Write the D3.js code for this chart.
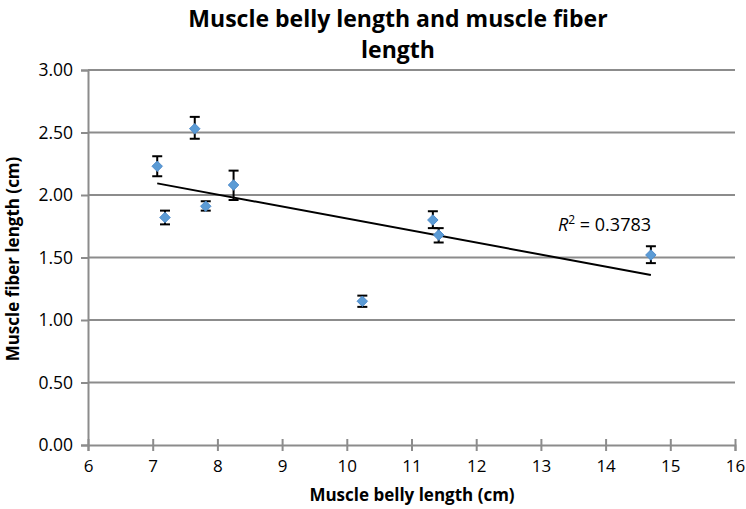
<!DOCTYPE html>
<html><head><meta charset="utf-8">
<script src="https://cdn.jsdelivr.net/npm/d3@7"></script>
<style>
body{margin:0;background:#fff;}
text{font-family:"Open Sans","Noto Sans",sans-serif;}
</style></head>
<body><svg id="c" width="746" height="509"></svg>
<script>
const bellyLength = [7.07, 7.19, 7.65, 7.82, 8.25, 10.24, 11.33, 11.42, 14.70];
const fiberLength = [2.23, 1.82, 2.53, 1.91, 2.08, 1.15, 1.80, 1.68, 1.52];
const errHigh     = [2.31, 1.875, 2.625, 1.95, 2.195, 1.195, 1.87, 1.735, 1.59];
const errLow      = [2.15, 1.765, 2.45, 1.875, 1.96, 1.105, 1.735, 1.62, 1.455];
const xTicks = [6,7,8,9,10,11,12,13,14,15,16];
const yTicks = [0,0.5,1,1.5,2,2.5,3];
const rSquared = "0.3783";

const svg = d3.select("#c");
const pLeft = 88, pRight = 735, pTop = 70, pBottom = 445;
const x = d3.scaleLinear().domain([6,16]).range([pLeft,pRight]);
const y = d3.scaleLinear().domain([0,3]).range([pBottom,pTop]);
const grey = "#8c8c8c";

// gridlines
svg.append("g").selectAll("line").data(yTicks.filter(d=>d>0)).join("line")
  .attr("x1",pLeft).attr("x2",pRight).attr("y1",d=>y(d)).attr("y2",d=>y(d))
  .attr("stroke",grey).attr("stroke-width",2);

// y axis
const ya = svg.append("g").attr("transform",`translate(${pLeft},0)`)
  .call(d3.axisLeft(y).tickValues(yTicks).tickFormat(d3.format(".2f")).tickSize(7).tickPadding(8));
ya.select(".domain").attr("stroke",grey).attr("stroke-width",2);
ya.selectAll(".tick line").attr("stroke",grey).attr("stroke-width",2);
ya.selectAll("text").attr("font-size",17.5).attr("fill","#000").attr("font-family","'Open Sans'");

// x axis
const xa = svg.append("g").attr("transform",`translate(0,${pBottom})`)
  .call(d3.axisBottom(x).tickValues(xTicks).tickSize(6).tickPadding(9));
xa.select(".domain").attr("stroke",grey).attr("stroke-width",2);
xa.selectAll(".tick line").attr("stroke",grey).attr("stroke-width",2).attr("y1",-6);
xa.selectAll("text").attr("font-size",17).attr("fill","#000").attr("font-family","'Open Sans'");

// trendline (least squares)
const n = bellyLength.length;
const mx = d3.mean(bellyLength), my = d3.mean(fiberLength);
let sxy=0, sxx=0;
for(let i=0;i<n;i++){sxy+=(bellyLength[i]-mx)*(fiberLength[i]-my);sxx+=(bellyLength[i]-mx)**2;}
const slope = sxy/sxx, icpt = my - slope*mx;
const x0 = d3.min(bellyLength), x1 = d3.max(bellyLength);
svg.append("line").attr("x1",x(x0)).attr("x2",x(x1))
  .attr("y1",y(icpt+slope*x0)).attr("y2",y(icpt+slope*x1))
  .attr("stroke","#000").attr("stroke-width",2);

// error bars
const idx = d3.range(n);
const eb = svg.append("g").attr("stroke","#000").attr("stroke-width",2);
eb.selectAll(".v").data(idx).join("line")
  .attr("x1",i=>x(bellyLength[i])).attr("x2",i=>x(bellyLength[i]))
  .attr("y1",i=>y(errHigh[i])).attr("y2",i=>y(errLow[i]));
eb.selectAll(".t").data(idx).join("line")
  .attr("x1",i=>x(bellyLength[i])-5).attr("x2",i=>x(bellyLength[i])+5)
  .attr("y1",i=>y(errHigh[i])).attr("y2",i=>y(errHigh[i]));
eb.selectAll(".b").data(idx).join("line")
  .attr("x1",i=>x(bellyLength[i])-5).attr("x2",i=>x(bellyLength[i])+5)
  .attr("y1",i=>y(errLow[i])).attr("y2",i=>y(errLow[i]));

// markers
svg.append("g").selectAll("path").data(idx).join("path")
  .attr("d",d3.symbol(d3.symbolDiamond2,70))
  .attr("transform",i=>`translate(${x(bellyLength[i])},${y(fiberLength[i])})`)
  .attr("fill","#5b9bd5").attr("stroke","#4f8ccc").attr("stroke-width",1);

// R² label
const rt = svg.append("text").attr("x",558).attr("y",231).attr("font-size",18).attr("fill","#000");
rt.append("tspan").attr("font-style","italic").text("R");
rt.append("tspan").attr("font-size",12).attr("dy",-7).text("2");
rt.append("tspan").attr("dy",7).text(" = " + rSquared);

// titles
const title = svg.append("text").attr("text-anchor","middle").attr("font-size",23).attr("font-weight","bold").attr("fill","#000");
title.append("tspan").attr("x",398).attr("y",27).text("Muscle belly length and muscle fiber");
title.append("tspan").attr("x",398).attr("y",58).text("length");

svg.append("text").attr("x",412).attr("y",501).attr("text-anchor","middle")
  .attr("font-size",17).attr("font-weight","bold").text("Muscle belly length (cm)");
svg.append("text").attr("transform","translate(19,259) rotate(-90)").attr("text-anchor","middle")
  .attr("font-size",17).attr("font-weight","bold").text("Muscle fiber length (cm)");
</script></body></html>
